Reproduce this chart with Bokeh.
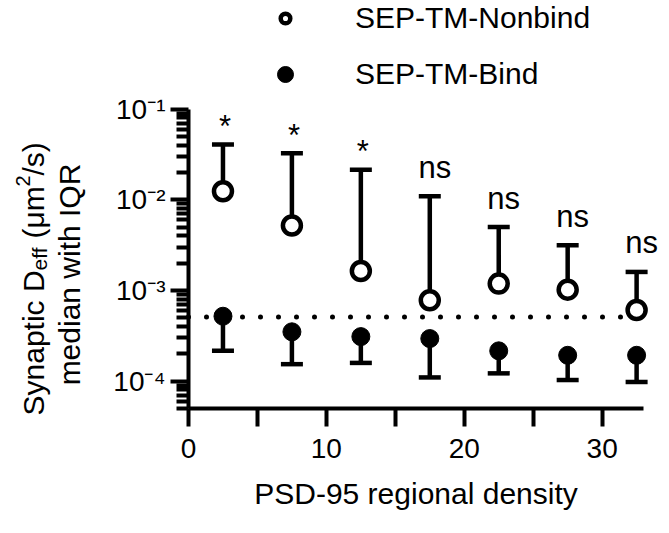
import math
from bokeh.plotting import figure
from bokeh.models import (Range1d, FixedTicker, CustomJSTickFormatter, Whisker, TeeHead,
                          ColumnDataSource, Legend, LegendItem, Label)
from bokeh.core.properties import value
from bokeh.embed import file_html
from bokeh.resources import INLINE

# ---------------- data ----------------
density_bins = [2.5, 7.5, 12.5, 17.5, 22.5, 27.5, 32.5]
nonbind_median = [0.0124, 0.0052, 0.00164, 0.00078, 0.00119, 0.00102, 0.00061]
nonbind_q3 = [0.0406, 0.0326, 0.0214, 0.0109, 0.0050, 0.00314, 0.0016]
bind_median = [0.00052, 0.00035, 0.00031, 0.000295, 0.000216, 0.000193, 0.000193]
bind_q1 = [0.000216, 0.000154, 0.000159, 0.00011, 0.000122, 0.000103, 0.000098]
significance = ["*", "*", "*", "ns", "ns", "ns", "ns"]
reference_level = 0.00051
x_ticks = [0, 10, 20, 30]
x_minor_ticks = [5, 15, 25]
y_ticks = [1e-4, 1e-3, 1e-2, 1e-1]
y_tick_labels = ["10\u207b\u2074", "10\u207b\u00b3", "10\u207b\u00b2", "10\u207b\u00b9"]
series_names = ["SEP-TM-Nonbind", "SEP-TM-Bind"]
x_title = "PSD-95 regional density"
x_bounds = (0, 33)
y_bounds = (5e-5, 0.1)

# ---------------- layout ----------------
FONT = "Liberation Sans"
W, H = 669, 533
X0_PX, X1_PX = 188, 643          # where the x axis starts / ends
Y_TOP_PX, Y_BOT_PX = 108.5, 408  # where the y axis starts / ends
px_per_x = (X1_PX - X0_PX) / (x_bounds[1] - x_bounds[0])
x_start = x_bounds[0] - X0_PX / px_per_x
x_end = x_bounds[1] + (W - X1_PX) / px_per_x
ly0, ly1 = math.log10(y_bounds[0]), math.log10(y_bounds[1])
px_per_dec = (Y_BOT_PX - Y_TOP_PX) / (ly1 - ly0)
y_end = 10 ** (ly1 + Y_TOP_PX / px_per_dec)
y_start = 10 ** (ly0 - (H - Y_BOT_PX) / px_per_dec)

p = figure(width=W, height=H, y_axis_type="log",
           x_range=Range1d(x_start, x_end), y_range=Range1d(y_start, y_end),
           output_backend="svg", toolbar_location=None, min_border=0,
           min_border_left=0, min_border_right=0, min_border_top=0, min_border_bottom=0)
p.outline_line_color = None
p.grid.visible = False
p.background_fill_color = "white"
p.border_fill_color = "white"

xa = p.xaxis[0]
ya = p.yaxis[0]
for ax in (xa, ya):
    ax.axis_line_width = 4
    ax.axis_line_color = "black"
    ax.major_tick_line_width = 4
    ax.minor_tick_line_width = 4
    ax.major_tick_line_color = "black"
    ax.minor_tick_line_color = "black"
    ax.major_tick_in = 0
    ax.minor_tick_in = 0
    ax.major_label_text_font = FONT
    ax.major_label_text_color = "black"
    ax.major_label_text_font_size = "28px"

xa.fixed_location = y_bounds[0]
xa.bounds = x_bounds
xa.ticker = FixedTicker(ticks=x_ticks, minor_ticks=x_minor_ticks)
xa.major_tick_out = 18
xa.minor_tick_out = 18
xa.major_label_standoff = 12
xa.axis_label = x_title
xa.axis_label_text_font = FONT
xa.axis_label_text_font_size = "30px"
xa.axis_label_text_font_style = "normal"
xa.axis_label_text_color = "black"
xa.axis_label_standoff = 16

ya.fixed_location = x_bounds[0]
ya.bounds = y_bounds
y_minor = [k * 10.0 ** e for e in range(-5, -1) for k in range(2, 10)
           if y_bounds[0] <= k * 10.0 ** e <= y_bounds[1]]
ya.ticker = FixedTicker(ticks=y_ticks, minor_ticks=y_minor)
ya.major_tick_out = 18
ya.minor_tick_out = 12
ya.major_label_standoff = 5
ya.formatter = CustomJSTickFormatter(args=dict(tvals=y_ticks, tlabels=y_tick_labels), code="""
    let best = 0, bd = Infinity;
    for (let i = 0; i < tvals.length; i++) {
        const d = Math.abs(Math.log10(tick) - Math.log10(tvals[i]));
        if (d < bd) { bd = d; best = i; }
    }
    return tlabels[best];
""")

nb_src = ColumnDataSource(dict(
    x=density_bins, med=nonbind_median, q3=nonbind_q3, sig=significance,
    xoff=[2 if s == "*" else 5 for s in significance],
    yoff=[-18 if s == "*" else -29 for s in significance],
))
b_src = ColumnDataSource(dict(x=density_bins, med=bind_median, q1=bind_q1))

# dotted reference line across the x axis extent
p.segment(x0=[x_bounds[0]], x1=[x_bounds[1]], y0=[reference_level], y1=[reference_level],
          line_color="black", line_width=5, line_dash="0 18", line_cap="round")

# IQR whiskers
p.add_layout(Whisker(source=nb_src, base="x", lower="med", upper="q3", dimension="height",
                     line_width=4.5, line_color="black", lower_head=None,
                     upper_head=TeeHead(size=22, line_width=4.5, line_color="black")))
p.add_layout(Whisker(source=b_src, base="x", lower="q1", upper="med", dimension="height",
                     line_width=4.5, line_color="black", upper_head=None,
                     lower_head=TeeHead(size=22, line_width=4.5, line_color="black")))

r_open = p.scatter("x", "med", source=nb_src, marker="circle", size=18,
                   fill_color="white", line_color="black", line_width=4.5)
r_fill = p.scatter("x", "med", source=b_src, marker="circle", size=18,
                   fill_color="black", line_color="black", line_width=1)

p.text(x="x", y="q3", text="sig", source=nb_src, text_font=value(FONT),
       text_font_size="31px", text_align="center", text_baseline="alphabetic",
       x_offset="xoff", y_offset="yoff", text_color="black")

# legends (frame covers the whole canvas, so location is in canvas pixels from bottom-left)
leg_common = dict(padding=0, margin=0, border_line_color=None, background_fill_alpha=0,
                  label_text_font=FONT, label_text_font_size="30px", label_text_color="black",
                  label_height=40, glyph_height=40)
row1_y, row2_y = 18, 74
leg1 = Legend(items=[LegendItem(label=series_names[0], renderers=[r_open])],
              location=(273, H - (row1_y - 20) - 40), glyph_width=24, label_standoff=58, **leg_common)
leg2 = Legend(items=[LegendItem(label=series_names[1], renderers=[r_fill])],
              location=(265, H - (row2_y - 20) - 40), glyph_width=40, label_standoff=50, **leg_common)
p.add_layout(leg1)
p.add_layout(leg2)

# y-axis title built from pieces (subscript / superscript), rotated
line1_x = 33
pieces = [("Synaptic D", 30, 0, 415), ("eff", 21, 6, 270), ("(\u03bcm", 30, 0, 238),
          ("2", 20, -11, 186), ("/s)", 30, 0, 175)]
for txt, fs, dx, ystart in pieces:
    p.add_layout(Label(x=line1_x + dx, y=H - ystart, x_units="screen", y_units="screen", text=txt,
                       angle=math.pi / 2, text_font=FONT, text_font_size=f"{fs}px",
                       text_align="left", text_baseline="alphabetic", text_color="black"))
p.add_layout(Label(x=69, y=H - 274, x_units="screen", y_units="screen", text="median with IQR",
                   angle=math.pi / 2, text_font=FONT, text_font_size="30px",
                   text_align="center", text_baseline="alphabetic", text_color="black"))

open("out.html", "w").write(file_html(p, INLINE))
